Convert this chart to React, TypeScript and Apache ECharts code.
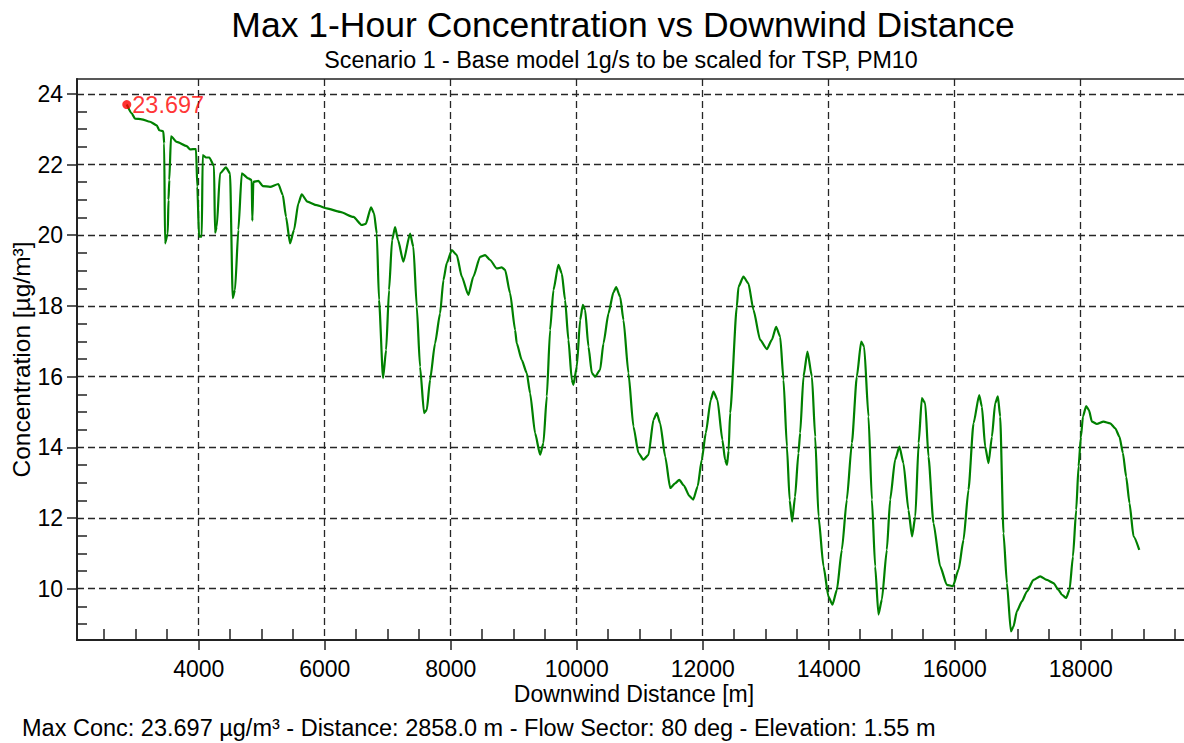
import React, { useEffect, useRef } from "react";
import * as echarts from "echarts";

const distances = [
  2858, 2936, 2989, 3095, 3227, 3333, 3374, 3438, 3452, 3465, 3508, 3520, 3533, 3560, 3651, 3810, 3862, 3957,
  3978, 4005, 4048, 4063, 4116, 4168, 4243, 4259, 4286, 4338, 4433, 4497, 4540, 4576, 4629, 4683, 4787, 4841,
  4851, 4867, 4946, 5016, 5132, 5264, 5334, 5386, 5449, 5513, 5581, 5635, 5724, 5873, 6032, 6243, 6455, 6588,
  6651, 6735, 6783, 6826, 6862, 6926, 6974, 7021, 7069, 7117, 7164, 7248, 7355, 7407, 7461, 7513, 7577, 7620,
  7672, 7751, 7831, 7884, 7937, 8017, 8096, 8175, 8280, 8359, 8466, 8545, 8625, 8731, 8810, 8863, 8942, 9022,
  9048, 9128, 9207, 9260, 9339, 9419, 9471, 9525, 9577, 9630, 9709, 9763, 9815, 9868, 9922, 9947, 10001, 10054,
  10097, 10133, 10186, 10240, 10292, 10371, 10424, 10504, 10583, 10626, 10689, 10742, 10821, 10900, 10980, 11059,
  11139, 11218, 11271, 11324, 11404, 11484, 11560, 11627, 11700, 11790, 11848, 11920, 11985, 12048, 12127, 12170,
  12233, 12312, 12355, 12385, 12410, 12435, 12541, 12567, 12646, 12725, 12805, 12911, 13018, 13097, 13165, 13229,
  13282, 13336, 13380, 13419, 13465, 13519, 13546, 13599, 13662, 13733, 13785, 13838, 13917, 13996, 14059, 14129,
  14208, 14287, 14367, 14446, 14515, 14562, 14631, 14685, 14737, 14789, 14843, 14922, 14975, 15054, 15122, 15186,
  15265, 15322, 15374, 15427, 15478, 15531, 15583, 15662, 15769, 15875, 15971, 16060, 16139, 16218, 16298, 16388,
  16431, 16483, 16536, 16590, 16642, 16685, 16721, 16774, 16828, 16891, 16932, 16986, 17065, 17145, 17250, 17356,
  17462, 17567, 17647, 17701, 17769, 17822, 17876, 17928, 17965, 18003, 18035, 18086, 18129, 18177, 18256, 18361,
  18467, 18547, 18615, 18669, 18721, 18774, 18838, 18929,
];

const concentrations = [
  23.697, 23.45, 23.3, 23.28, 23.21, 23.11, 22.97, 22.94, 22.6, 19.77, 20.05, 21.0, 21.56, 22.8, 22.64, 22.52, 22.43, 22.44,
  21.37, 19.96, 19.96, 22.27, 22.2, 22.2, 21.96, 20.07, 20.24, 21.75, 21.92, 21.75, 18.22, 18.45, 20.15, 21.75, 21.61, 21.56,
  20.41, 21.51, 21.54, 21.39, 21.37, 21.45, 21.14, 20.52, 19.77, 20.15, 20.9, 21.16, 20.95, 20.85, 20.76, 20.66, 20.52, 20.29,
  20.32, 20.79, 20.62, 20.05, 18.17, 15.96, 16.75, 18.45, 19.86, 20.23, 19.86, 19.25, 20.05, 19.67, 17.98, 16.28, 14.97, 15.06,
  15.91, 16.94, 17.79, 18.73, 19.21, 19.58, 19.44, 18.83, 18.31, 18.83, 19.39, 19.44, 19.3, 19.06, 19.09, 19.02, 18.36, 17.32,
  16.94, 16.47, 16.1, 15.53, 14.4, 13.79, 14.12, 15.44, 17.32, 18.45, 19.16, 18.92, 18.17, 17.04, 15.91, 15.77, 16.28, 17.6,
  18.03, 17.89, 16.85, 16.1, 16.0, 16.19, 16.94, 17.79, 18.39, 18.53, 18.26, 17.6, 16.1, 14.59, 13.84, 13.65,
  13.79, 14.78, 14.97, 14.68, 13.74, 12.85, 12.98, 13.08, 12.92, 12.62, 12.52, 12.9, 13.65, 14.4, 15.34, 15.58,
  15.34, 14.21, 13.65, 13.5, 13.9, 14.97, 17.98, 18.54, 18.83, 18.64, 17.89, 17.04, 16.78, 17.04, 17.41, 17.13,
  15.91, 14.02, 12.5, 11.9, 12.6, 13.84, 14.4, 16.0, 16.71, 16.0, 14.3, 12.04, 10.63, 9.78, 9.55, 9.97,
  11.1, 12.52, 14.12, 16.0, 16.99, 16.85, 14.87, 12.52, 10.63, 9.27, 9.69, 11.1, 12.52, 13.65, 14.02, 13.55,
  12.23, 11.48, 12.04, 14.12, 15.39, 15.25, 13.74, 11.86, 10.63, 10.11, 10.07, 10.54, 11.38, 12.8, 14.68, 15.48,
  15.15, 14.02, 13.55, 14.3, 15.25, 15.44, 14.87, 11.57, 10.16, 8.79, 8.93, 9.36, 9.64, 9.92, 10.25, 10.35,
  10.25, 10.16, 9.97, 9.83, 9.74, 9.97, 10.91, 12.23, 13.46, 14.3, 14.87, 15.17, 15.06, 14.73, 14.66, 14.73,
  14.68, 14.54, 14.3, 13.84, 13.17, 12.42, 11.48, 11.1,
];

const maxPoint = [2858, 23.697];

const xMajorTicks = [4000, 6000, 8000, 10000, 12000, 14000, 16000, 18000];
const xMinorTicks = [
  2500, 3000, 3500, 4500, 5000, 5500, 6500, 7000, 7500, 8500, 9000, 9500, 10500, 11000, 11500,
  12500, 13000, 13500, 14500, 15000, 15500, 16500, 17000, 17500, 18500, 19000, 19500,
];
const yMajorTicks = [10, 12, 14, 16, 18, 20, 22, 24];
const yMinorTicks = [
  9, 9.5, 10.5, 11, 11.5, 12.5, 13, 13.5, 14.5, 15, 15.5, 16.5, 17, 17.5, 18.5, 19, 19.5, 20.5, 21, 21.5,
  22.5, 23, 23.5,
];

const titleText = "Max 1-Hour Concentration vs Downwind Distance";
const subtitleText = "Scenario 1 - Base model 1g/s to be scaled for TSP, PM10";
const xName = "Downwind Distance [m]";
const yName = "Concentration [µg/m³]";
const footerText =
  "Max Conc: 23.697 µg/m³ - Distance: 2858.0 m - Flow Sector: 80 deg - Elevation: 1.55 m";

const FONT = "'Liberation Sans', Arial, sans-serif";

export default function App() {
  const ref = useRef<HTMLDivElement>(null);

  useEffect(() => {
    document.body.style.margin = "0";
    if (!ref.current) return;
    const chart = echarts.init(ref.current, undefined, { renderer: "svg" });
    const xMin = 2068;
    const xMax = 19750;
    const yMin = 8.55;
    const yMax = 24.42;
    const frame = "#222222";
    const gridLine = { type: [7, 4] as any, color: "#262626", width: 1.3 };

    const option: any = {
      animation: false,
      backgroundColor: "#ffffff",
      textStyle: { fontFamily: FONT },
      grid: {
        left: 77,
        top: 79,
        width: 1114,
        height: 561,
        outerBoundsMode: "none",
        containLabel: false,
        show: true,
        borderColor: frame,
        borderWidth: 1.5,
        backgroundColor: "transparent",
      },
      graphic: [
        {
          type: "text",
          x: 623,
          y: 25,
          style: {
            text: titleText,
            fontSize: 35.5,
            fontFamily: FONT,
            fill: "#000",
            align: "center",
            verticalAlign: "middle",
          },
        },
        {
          type: "text",
          x: 621,
          y: 60,
          style: {
            text: subtitleText,
            fontSize: 23.3,
            fontFamily: FONT,
            fill: "#000",
            align: "center",
            verticalAlign: "middle",
          },
        },
        {
          type: "text",
          x: 22,
          y: 728,
          style: {
            text: footerText,
            fontSize: 23.5,
            fontFamily: FONT,
            fill: "#000",
            align: "left",
            verticalAlign: "middle",
          },
        },
      ],
      xAxis: [
        {
          type: "value",
          min: xMin,
          max: xMax,
          position: "bottom",
          axisLine: { show: true, onZero: false, lineStyle: { color: frame, width: 2 } },
          axisTick: {
            show: true,
            inside: true,
            length: 11,
            customValues: xMinorTicks,
            lineStyle: { color: frame, width: 1.5 },
          },
          axisLabel: { show: false },
          splitLine: { show: false },
          minorTick: { show: false },
        },
        {
          type: "value",
          min: xMin,
          max: xMax,
          position: "bottom",
          name: xName,
          nameLocation: "middle",
          nameGap: 42,
          nameMoveOverlap: false,
          nameTextStyle: { fontSize: 23, color: "#000", fontFamily: FONT },
          axisLine: { show: false },
          axisTick: {
            show: true,
            inside: false,
            length: 10,
            customValues: xMajorTicks,
            lineStyle: { color: frame, width: 1.5 },
          },
          axisLabel: {
            show: true,
            customValues: xMajorTicks,
            margin: 17,
            fontSize: 23,
            color: "#000",
            fontFamily: FONT,
            formatter: (v: number) => String(v),
          },
          splitLine: { show: true, lineStyle: gridLine },
        },
      ],
      yAxis: [
        {
          type: "value",
          min: yMin,
          max: yMax,
          position: "left",
          axisLine: { show: true, onZero: false, lineStyle: { color: frame, width: 2 } },
          axisTick: {
            show: true,
            inside: true,
            length: 10,
            customValues: yMinorTicks,
            lineStyle: { color: frame, width: 1.5 },
          },
          axisLabel: { show: false },
          splitLine: { show: false },
        },
        {
          type: "value",
          min: yMin,
          max: yMax,
          position: "left",
          name: yName,
          nameLocation: "middle",
          nameGap: 43,
          nameMoveOverlap: false,
          nameRotate: 90,
          nameTextStyle: { fontSize: 24.5, color: "#000", fontFamily: FONT },
          axisLine: { show: false },
          axisTick: {
            show: true,
            inside: false,
            length: 10,
            customValues: yMajorTicks,
            lineStyle: { color: frame, width: 1.5 },
          },
          axisLabel: {
            show: true,
            customValues: yMajorTicks,
            margin: 14,
            fontSize: 23,
            color: "#000",
            fontFamily: FONT,
            formatter: (v: number) => String(v),
          },
          splitLine: { show: true, lineStyle: gridLine },
        },
      ],
      series: [
        {
          type: "line",
          xAxisIndex: 0,
          yAxisIndex: 0,
          data: distances.map((d, i) => [d, concentrations[i]]),
          showSymbol: false,
          symbol: "none",
          smooth: 0.2,
          smoothMonotone: "x",
          lineStyle: { color: "#008000", width: 2.2 },
          z: 3,
        },
        {
          type: "scatter",
          xAxisIndex: 0,
          yAxisIndex: 0,
          data: [maxPoint],
          symbolSize: 9,
          itemStyle: { color: "#ff0000" },
          label: {
            show: true,
            position: "right",
            distance: 1,
            color: "#ff0000",
            fontSize: 23.5,
            fontFamily: FONT,
            formatter: (p: any) => Number(p.value[1]).toFixed(3),
          },
          z: 4,
        },
      ],
    };
    chart.setOption(option);
    return () => chart.dispose();
  }, []);

  return <div ref={ref} style={{ width: 1184, height: 743 }} />;
}
